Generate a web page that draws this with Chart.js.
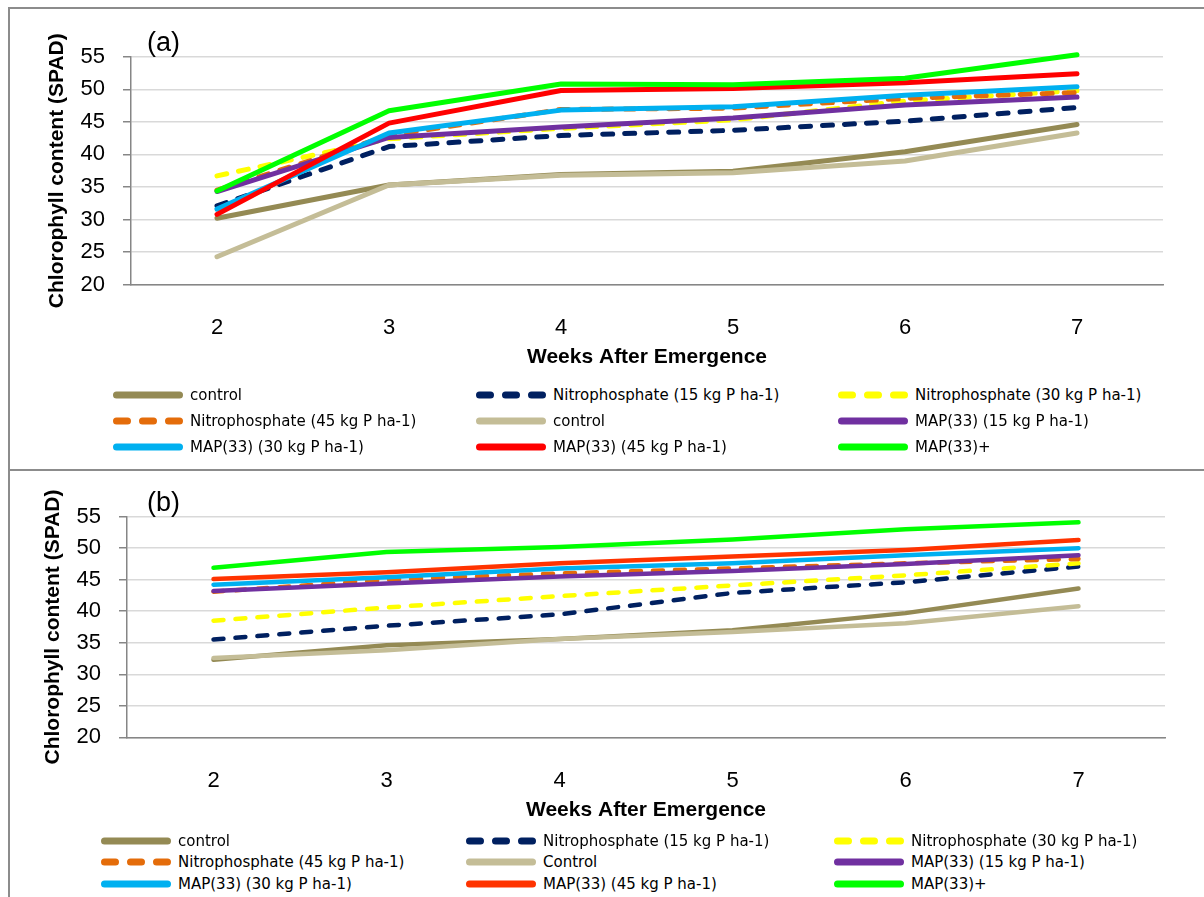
<!DOCTYPE html>
<html>
<head>
<meta charset="utf-8">
<script src="https://cdn.jsdelivr.net/npm/chart.js@4.4.1/dist/chart.umd.min.js"></script>
<style>
  body { margin: 0; background: #fff; width: 1204px; height: 897px; overflow: hidden; position: relative; }
  .line { position: absolute; background: #8c8c8c; }
  .panelLabel { position: absolute; font-family: "Liberation Sans", Arial, sans-serif; font-size: 27px; color: #000; }
  canvas { position: absolute; }
  .legItem { position: absolute; height: 20px; display: flex; align-items: center; white-space: nowrap;
             font-family: "DejaVu Sans", sans-serif; font-size: 15px; color: #000; }
  .legItem svg { margin-right: 6px; }
</style>
</head>
<body>

<div class="line" style="left:8px;top:7px;width:1196px;height:1.5px"></div>
<div class="line" style="left:8px;top:7px;width:1.5px;height:890px"></div>
<div class="line" style="left:8px;top:469px;width:1196px;height:2px"></div>

<div style="position:absolute;left:10px;top:9px;width:1194px;height:362px"><canvas id="chartA"></canvas></div>
<div style="position:absolute;left:10px;top:472px;width:1194px;height:360px"><canvas id="chartB"></canvas></div>

<div class="panelLabel" style="left:147px;top:27px">(a)</div>
<div class="panelLabel" style="left:147px;top:487px">(b)</div>

<div id="legendA"></div>
<div id="legendB"></div>

<script>
// Weeks after emergence
const weeks = ["2", "3", "4", "5", "6", "7"];
const yTicks = [20, 25, 30, 35, 40, 45, 50, 55];

// Series names
const namesA = ["control", "Nitrophosphate (15 kg P ha-1)", "Nitrophosphate (30 kg P ha-1)",
    "Nitrophosphate (45 kg P ha-1)", "control", "MAP(33) (15 kg P ha-1)",
    "MAP(33) (30 kg P ha-1)", "MAP(33) (45 kg P ha-1)", "MAP(33)+"];
const namesB = ["control", "Nitrophosphate (15 kg P ha-1)", "Nitrophosphate (30 kg P ha-1)",
    "Nitrophosphate (45 kg P ha-1)", "Control", "MAP(33) (15 kg P ha-1)",
    "MAP(33) (30 kg P ha-1)", "MAP(33) (45 kg P ha-1)", "MAP(33)+"];

const colorsA = ["#948a54", "#002060", "#ffff00", "#e46c0a", "#c4bd97", "#7030a0", "#00b0f0", "#ff0000", "#00ff00"];
const colorsB = ["#948a54", "#002060", "#ffff00", "#e46c0a", "#c4bd97", "#7030a0", "#00b0f0", "#ff3300", "#00ff00"];
const dashed = [false, true, true, true, false, false, false, false, false];

// (a) values
const controlA   = [30.2, 35.3, 36.9, 37.4, 40.4, 44.6];
const nitro15A   = [32.1, 41.2, 42.9, 43.7, 45.1, 47.2];
const nitro30A   = [36.7, 42.4, 44.0, 45.3, 48.2, 49.8];
const nitro45A   = [34.5, 42.9, 46.9, 47.1, 48.6, 49.5];
const control2A  = [24.3, 35.3, 36.8, 37.2, 39.0, 43.3];
const map15A     = [34.3, 42.6, 44.2, 45.6, 47.6, 48.8];
const map30A     = [31.6, 43.3, 46.8, 47.3, 49.1, 50.4];
const map45A     = [30.8, 44.8, 49.8, 50.1, 51.0, 52.4];
const mapPlusA   = [34.4, 46.7, 50.8, 50.7, 51.7, 55.3];

// (b) values
const controlB   = [32.3, 34.6, 35.6, 37.0, 39.7, 43.6];
const nitro15B   = [35.5, 37.7, 39.5, 42.9, 44.6, 47.1];
const nitro30B   = [38.5, 40.6, 42.4, 44.1, 45.7, 47.6];
const nitro45B   = [43.1, 45.0, 46.0, 46.8, 47.6, 48.3];
const control2B  = [32.6, 33.8, 35.6, 36.7, 38.1, 40.8];
const map15B     = [43.2, 44.4, 45.5, 46.4, 47.5, 48.9];
const map30B     = [44.2, 45.4, 46.8, 47.6, 48.9, 50.0];
const map45B     = [45.1, 46.2, 47.6, 48.7, 49.7, 51.3];
const mapPlusB   = [46.9, 49.4, 50.2, 51.4, 53.0, 54.1];

const valuesA = [controlA, nitro15A, nitro30A, nitro45A, control2A, map15A, map30A, map45A, mapPlusA];
const valuesB = [controlB, nitro15B, nitro30B, nitro45B, control2B, map15B, map30B, map45B, mapPlusB];


function makeDatasets(names, colors, values, width) {
    return names.map((name, i) => ({
        label: name,
        data: values[i],
        borderColor: colors[i],
        backgroundColor: colors[i],
        borderWidth: width,
        borderDash: dashed[i] ? [10, 12] : [],
        borderCapStyle: "round",
        borderJoinStyle: "round",
        pointRadius: 0,
        tension: 0,
        fill: false,
        clip: false,
        order: names.length - i   // later series drawn on top, as in the original
    }));
}

function makeChart(id, datasets, p) {
    return new Chart(document.getElementById(id), {
        type: "line",
        data: { labels: weeks, datasets: datasets },
        options: {
            responsive: true,
            maintainAspectRatio: false,
            animation: false,
            layout: { padding: { left: 0, right: p.right, top: p.top, bottom: 0 } },
            plugins: { legend: { display: false }, tooltip: { enabled: false } },
            scales: {
                x: {
                    offset: true,
                    grid: { display: false },
                    border: { display: true, color: "#868686", width: 1.5 },
                    ticks: { color: "#000", padding: p.xTickPad, font: { family: "Liberation Sans", size: 22 } },
                    title: {
                        display: true, text: "Weeks After Emergence", color: "#000",
                        padding: { top: 0, bottom: p.xTitlePad },
                        font: { family: "Liberation Sans", size: 21, weight: "bold" }
                    },
                    afterFit: (scale) => { scale.height = p.xHeight; }
                },
                y: {
                    min: 20,
                    max: 55,
                    afterBuildTicks: (scale) => { scale.ticks = yTicks.map(v => ({ value: v })); },
                    grid: { color: "#d9d9d9", lineWidth: 1.5, tickLength: 8, tickColor: "#868686" },
                    border: { display: true, color: "#868686", width: 1.5 },
                    ticks: { color: "#000", padding: 18, font: { family: "Liberation Sans", size: 22 } },
                    title: {
                        display: true, text: "Chlorophyll content (SPAD)", color: "#000",
                        padding: { top: p.yTitlePad, bottom: 0 },
                        font: { family: "Liberation Sans", size: 21, weight: "bold" }
                    },
                    afterFit: (scale) => { scale.width = p.yWidth; }
                }
            }
        }
    });
}

function makeLegend(id, names, colors, cols, rows) {
    const box = document.getElementById(id);
    names.forEach((name, i) => {
        const item = document.createElement("div");
        item.className = "legItem";
        item.style.left = cols[i % 3] + "px";
        item.style.top = (rows[Math.floor(i / 3)] - 10) + "px";
        const dash = dashed[i] ? 'stroke-dasharray="11 15"' : "";
        item.innerHTML = '<svg width="71" height="10"><line x1="3.5" y1="5" x2="66.5" y2="5" stroke="' +
            colors[i] + '" stroke-width="7" stroke-linecap="round" ' + dash + '/></svg>';
        const span = document.createElement("span");
        span.textContent = name;
        item.appendChild(span);
        box.appendChild(item);
    });
}

makeChart("chartA", makeDatasets(namesA, colorsA, valuesA, 5),
    { right: 41, top: 47.7, xHeight: 86.3, xTickPad: 22, xTitlePad: 1, yWidth: 121, yTitlePad: 35 });
makeChart("chartB", makeDatasets(namesB, colorsB, valuesB, 4.5),
    { right: 39, top: 44.7, xHeight: 94.7, xTickPad: 22, xTitlePad: 9, yWidth: 117, yTitlePad: 31 });

makeLegend("legendA", namesA, colorsA, [113, 476, 838], [395, 421, 447]);
makeLegend("legendB", namesB, colorsB, [101, 466, 834], [841, 862, 884]);
</script>
</body>
</html>
